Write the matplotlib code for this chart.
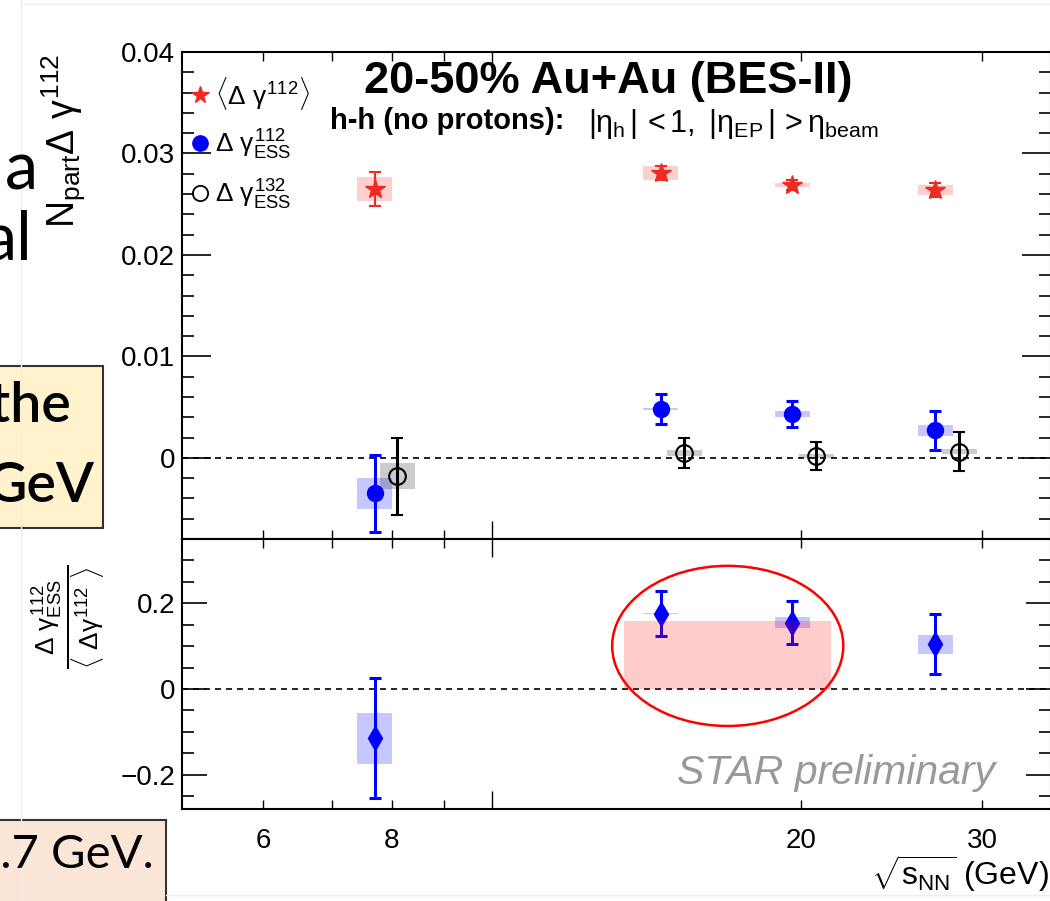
"""Ratio of ESS to inclusive Delta gamma vs collision energy (STAR BES-II style)."""

import matplotlib
matplotlib.use("Agg")
import matplotlib.pyplot as plt
import numpy as np
from matplotlib.lines import Line2D
from matplotlib.patches import Ellipse, Rectangle
from matplotlib.ticker import FixedFormatter, FixedLocator, MultipleLocator, NullFormatter

plt.rcParams["font.family"] = ["Liberation Sans", "DejaVu Sans"]
plt.rcParams["mathtext.fontset"] = "custom"
plt.rcParams["mathtext.rm"] = "Liberation Sans"
plt.rcParams["mathtext.it"] = "Liberation Sans"
plt.rcParams["mathtext.bf"] = "Liberation Sans:bold"

FIG_W, FIG_H, DPI = 1050, 901, 100

# ---- data ----
energy = np.array([7.7, 14.6, 19.6, 27.0])
energy_open = np.array([8.1, 15.4, 20.7, 28.5])

incl_val = np.array([0.0265, 0.0281, 0.0269, 0.0264])
incl_stat = np.array([0.0017, 0.0007, 0.0005, 0.0007])
incl_sys = np.array([0.0012, 0.0007, 0.0002, 0.0005])

ess112_val = np.array([-0.0035, 0.0048, 0.0043, 0.0027])
ess112_stat = np.array([0.0038, 0.0015, 0.0013, 0.0019])
ess112_sys = np.array([0.0015, 0.0001, 0.0003, 0.0005])

ess132_val = np.array([-0.0018, 0.0005, 0.0002, 0.0006])
ess132_stat = np.array([0.0038, 0.0015, 0.0014, 0.0019])
ess132_sys = np.array([0.0013, 0.0003, 0.0002, 0.00025])

ratio_val = np.array([-0.115, 0.176, 0.155, 0.104])
ratio_stat = np.array([0.14, 0.053, 0.05, 0.07])
ratio_sys = np.array([0.06, 0.002, 0.012, 0.023])

band_x = [13.45, 21.4]
band_level = 0.158

x_major_ticks = [10]
x_minor_ticks = [6, 7, 8, 9, 20, 30]
x_minor_labels = ["6", "", "8", "", "20", "30"]

RED = "#ee2a24"
BLUE = "#0000ff"
BOX_HALF = 1.04  # multiplicative half width of sys boxes on log x


def px(x0, y0, x1, y1):
    """Pixel box (top-left origin) -> figure fraction rect."""
    return [x0 / FIG_W, 1 - y1 / FIG_H, (x1 - x0) / FIG_W, (y1 - y0) / FIG_H]


def sys_boxes(ax, x, y, dy, color, alpha, zorder=2):
    for xi, yi, di in zip(x, y, dy):
        ax.add_patch(Rectangle((xi / BOX_HALF, yi - di), xi * BOX_HALF - xi / BOX_HALF, 2 * di,
                               facecolor=color, edgecolor="none", alpha=alpha, zorder=zorder))


def style_xaxis(ax, labels):
    ax.set_xscale("log")
    ax.set_xlim(5, 35)
    ax.xaxis.set_major_locator(FixedLocator(x_major_ticks))
    ax.xaxis.set_major_formatter(NullFormatter())
    ax.xaxis.set_minor_locator(FixedLocator(x_minor_ticks))
    if labels:
        ax.xaxis.set_minor_formatter(FixedFormatter(x_minor_labels))
    else:
        ax.xaxis.set_minor_formatter(NullFormatter())


fig = plt.figure(figsize=(FIG_W / DPI, FIG_H / DPI), dpi=DPI)

# slide frame lines
fig.add_artist(Line2D([21 / FIG_W, 21 / FIG_W], [0, 1], color="#eeeeee", lw=1))
fig.add_artist(Line2D([21 / FIG_W, 1], [1 - 4 / FIG_H, 1 - 4 / FIG_H], color="#eeeeee", lw=1))
fig.add_artist(Line2D([166 / FIG_W, 1], [1 - 895 / FIG_H, 1 - 895 / FIG_H], color="#eeeeee", lw=1))

ax_top = fig.add_axes(px(182, 52, 1051, 539))
ax_bot = fig.add_axes(px(182, 539, 1051, 809))

# ---- top panel ----
ax = ax_top
sys_boxes(ax, energy, incl_val, incl_sys, RED, 0.22)
sys_boxes(ax, energy, ess112_val, ess112_sys, BLUE, 0.22)
sys_boxes(ax, energy_open, ess132_val, ess132_sys, "black", 0.2)
ax.axhline(0, color="black", lw=1.2, dashes=(3.6, 3.0), zorder=1)
ax.errorbar(energy, incl_val, yerr=incl_stat, fmt="*", color=RED, ms=15, lw=1.5,
            capsize=4.5, capthick=1.5, zorder=4)
ax.errorbar(energy, ess112_val, yerr=ess112_stat, fmt="o", color=BLUE, ms=11.5, lw=2.2,
            capsize=4, capthick=2.2, zorder=4)
ax.errorbar(energy_open, ess132_val, yerr=ess132_stat, fmt="o", color="black", mfc="none",
            ms=12, mew=1.5, lw=2.2, capsize=4, capthick=2.2, zorder=4)
style_xaxis(ax, labels=False)
ax.set_ylim(-0.008, 0.04)
ax.set_yticks([0, 0.01, 0.02, 0.03, 0.04], ["0", "0.01", "0.02", "0.03", "0.04"])
ax.yaxis.set_minor_locator(MultipleLocator(0.002))
ax.tick_params(axis="y", which="major", direction="in", length=21, width=1.2, labelsize=20,
               pad=5, right=True)
ax.tick_params(axis="y", which="minor", direction="in", length=8.6, width=1.2, right=True)
ax.tick_params(axis="x", which="major", direction="in", length=13, width=1.0, top=True)
ax.tick_params(axis="x", which="minor", direction="in", length=6.5, width=1.0, top=True)

handles = [
    Line2D([], [], ls="none", marker="*", color=RED, ms=13),
    Line2D([], [], ls="none", marker="o", color=BLUE, ms=11),
    Line2D([], [], ls="none", marker="o", color="black", mfc="none", ms=11, mew=1.3),
]
labels = [r"$\langle\Delta\ \gamma^{112}\rangle$",
          r"$\Delta\ \gamma^{112}_{ESS}$",
          r"$\Delta\ \gamma^{132}_{ESS}$"]
ax.legend(handles, labels, loc="upper left", bbox_to_anchor=(0.0, 0.97), frameon=False,
          fontsize=19, handlelength=0.8, handletextpad=0.15, labelspacing=0.6,
          borderpad=0, borderaxespad=0.3)

ax.text(0.491, 0.94, "20-50% Au+Au (BES-II)", transform=ax.transAxes, ha="center",
        va="center", fontsize=32.5, fontweight="bold")
ax.text(0.17, 0.858, "h-h (no protons):", transform=ax.transAxes, ha="left", va="center",
        fontsize=21, fontweight="bold")
ax.text(0.467, 0.853, r"$|\eta_{h}\,|\, < 1,\ |\eta_{EP}\,|\, > \eta_{beam}$",
        transform=ax.transAxes, ha="left", va="center", fontsize=22)

# ---- bottom panel ----
ax = ax_bot
sys_boxes(ax, energy, ratio_val, ratio_sys, BLUE, 0.22)
ax.axhline(0, color="black", lw=1.2, dashes=(3.6, 3.0), zorder=1)
ax.errorbar(energy, ratio_val, yerr=ratio_stat, fmt="d", color=BLUE, ms=12.5, lw=2.2,
            capsize=4, capthick=2.2, zorder=4)
ax.fill_between(band_x, 0, band_level, color="#ff0000", alpha=0.2, lw=0, zorder=5)
style_xaxis(ax, labels=True)
ax.set_ylim(-0.28, 0.35)
ax.set_yticks([-0.2, 0, 0.2], ["\u22120.2", "0", "0.2"])
ax.yaxis.set_minor_locator(MultipleLocator(0.05))
ax.tick_params(axis="y", which="major", direction="in", length=18, width=1.2, labelsize=20,
               pad=5, right=True)
ax.tick_params(axis="y", which="minor", direction="in", length=8.6, width=1.2, right=True)
ax.tick_params(axis="x", which="major", direction="in", length=13, width=1.0, top=True)
ax.tick_params(axis="x", which="minor", direction="in", length=6.5, width=1.0, top=True,
               labelsize=20, pad=14)
ax.add_patch(Ellipse((0.628, 0.604), 0.266, 0.593, transform=ax.transAxes, fill=False,
                     edgecolor="#ff0000", lw=1.8, clip_on=False, zorder=6))
ax.text(0.935, 0.135, "STAR preliminary", transform=ax.transAxes, ha="right", va="center",
        fontsize=29.5, style="italic", color="#999999")

for a in (ax_top, ax_bot):
    for s in a.spines.values():
        s.set_linewidth(1.5)

# axis titles
fig.text(64 / FIG_W, 1 - 141 / FIG_H, r"$\mathrm{N_{part}}\Delta\ \gamma^{112}$", rotation=90,
         ha="center", va="center", fontsize=27)
fig.text(68 / FIG_W, 1 - 617 / FIG_H,
         r"$\frac{\Delta\ \gamma^{112}_{ESS}}{\langle\ \Delta\gamma^{112}\ \rangle}$",
         rotation=90, ha="center", va="center", fontsize=27)
fig.text(1049 / FIG_W, 1 - 874 / FIG_H, r"$\sqrt{s_{NN}}$ (GeV)", ha="right", va="center",
         fontsize=23)

# slide fragments around the cropped plot
slide_font = ["Lato", "DejaVu Sans"]
fig.text(38 / FIG_W, 1 - 190 / FIG_H, "a", ha="right", va="baseline", fontsize=48,
         family=slide_font)
fig.text(33 / FIG_W, 1 - 260 / FIG_H, "al", ha="right", va="baseline", fontsize=48,
         family=slide_font)
fig.add_artist(Rectangle((-2 / FIG_W, 1 - 528 / FIG_H), 105 / FIG_W, 162 / FIG_H,
                         transform=fig.transFigure, facecolor="#fff2cc", edgecolor="#333333",
                         lw=1.5))
fig.text(71 / FIG_W, 1 - 422 / FIG_H, "the", ha="right", va="baseline", fontsize=40,
         family=slide_font, fontweight="semibold")
fig.text(95 / FIG_W, 1 - 502 / FIG_H, "GeV", ha="right", va="baseline", fontsize=40,
         family=slide_font, fontweight="semibold")
fig.add_artist(Rectangle((-2 / FIG_W, -5 / FIG_H), 168 / FIG_W, 86 / FIG_H,
                         transform=fig.transFigure, facecolor="#fbe5d6", edgecolor="#333333",
                         lw=1.5))
fig.text(154 / FIG_W, 1 - 868 / FIG_H, "7.7 GeV.", ha="right", va="baseline", fontsize=34,
         family=slide_font)

fig.savefig("out.png", dpi=DPI, facecolor="white")
